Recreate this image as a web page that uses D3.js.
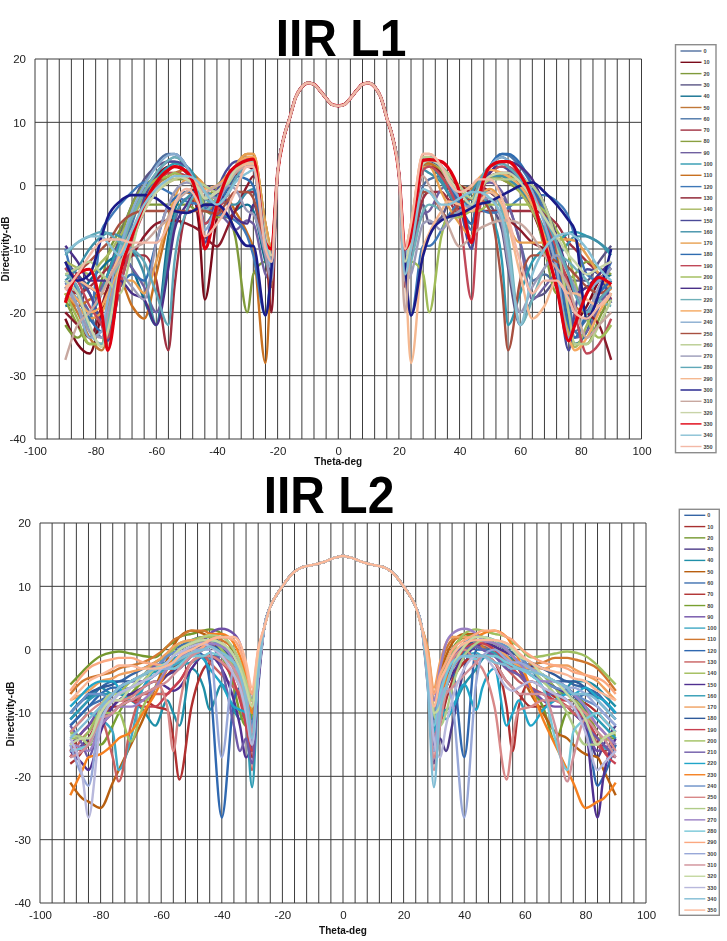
<!DOCTYPE html>
<html><head><meta charset="utf-8">
<style>html,body{margin:0;padding:0;background:#fff}svg{display:block;filter:blur(.35px)}text{font-family:"Liberation Sans",Arial,sans-serif}</style>
<script src="https://cdn.jsdelivr.net/npm/d3@7"></script>
</head><body><svg id="c" width="727" height="941"></svg>
<script>
const phis = d3.range(0,360,10);
const xTicks = [-100,-80,-60,-40,-20,0,20,40,60,80,100];
const yTicks = [-40,-30,-20,-10,0,10,20];
const coloursL1 = ["#4f6f9f","#7a0a1a","#7f9a3a","#5a5585","#0f6f8f","#c07838","#4a75a8","#a03040","#8aa040","#7060a0","#2f9ab0","#c87020","#3f78b8","#8a1a2a","#a8b860","#4a4a98","#3f90a8","#e8a050","#2f6cb0","#c04858","#a0bc58","#4a3088","#6fb0b8","#f5a860","#88acd0","#a85040","#b8cc90","#9a9ab8","#60a8b8","#f5b890","#1a1a88","#c8a8a0","#c8d4a8","#e00010","#88c0d4","#f3b8a6"];
const coloursL2 = ["#3565a5","#a83030","#74982e","#4c3a88","#1f8fa8","#b85f10","#3f70b0","#b03030","#78a030","#7050a8","#3fa8c4","#d07830","#2f68b0","#c86060","#a0bc58","#503090","#2f9cb4","#f0a060","#2f5a9a","#c84050","#a0c060","#6f5aa8","#20a5c8","#f58020","#6a90c8","#d88888","#b0cc88","#9a80c4","#78c8d8","#fba880","#98a8d8","#d09098","#c4d8a0","#b8b8dc","#80bcd4","#fcb898"];

const mainThetaL1 = [-20,-18,-16,-14,-12,-10,-8,-6,-4,-2,0,2,4,6,8,10,12,14,16,18,20];
const mainL1 = [2,7.5,10.7,14,15.6,16.2,16,15,13.8,12.8,12.6,12.8,13.8,15,16,16.2,15.6,14,10.7,7.5,2];
const sideThetaL1 = [-90,-86,-82,-78,-76,-72,-68,-64,-60,-56,-54,-50,-46,-44,-40,-36,-34,-30,-28,-24,-22];
const L1_000=[-15,-17,-20,-24,-22,-12,-5,0,3.5,5,5,3,-2,-6,-3,1,3,4.5,4,-8,-12];
const L1_010=[-21,-25,-26.5,-20,-16,-10,-5,-1,1.5,3,3,2,-6,-18,-5,0,1.5,3,2.5,-9,-13];
const L1_020=[-22,-24,-21,-15,-11,-7,-4,-3,-3,-3,-3,-3,-4,-4,-5,-5,-8,-20,-14,-12,-13];
const L1_030=[-12,-14,-16,-17,-14,-8,-3,1,3,3.8,3.8,2,-1,-3,-1,1,3,4,3.5,-7,-11];
const L1_040=[-19,-18,-15,-13,-12,-11,-13,-18,-22,-8,-4,-1,-1.5,-3,-4,-5,-4,-3,-4,-12,-15];
const L1_050=[-17,-20,-24,-26,-24,-16,-8,-3,0,1.5,2,2.5,1,0,-1,1,3,5,5,-6,-10];
const L1_060=[-13,-15,-17,-22,-24,-13,-6,-1,2,4,4.5,3,-1,-4,-2,1,3,4.5,4,-7,-11];
const L1_070=[-16,-17,-16,-14,-13,-12,-11,-11,-15,-26,-16,-4,-2,-2,-3,-5,-4,-1,-1,-10,-15];
const L1_080=[-18,-22,-25,-25,-20,-9,-3,0,1,1,1,1,-1,-2,0,2,3,4.5,4.5,-6,-10];
const L1_090=[-13,-16,-20,-16,-14,-11,-13,-16,-20,-12,-6,-2,-2,-3,-4,-6,-7,-5.5,-6,-14,-15];
const L1_100=[-16,-18,-20,-17,-14,-9,-5,-2,1,3,3.5,3,0,-3,-1,1,3,4,3.5,-8,-13];
const L1_110=[-17,-19,-18,-17,-17,-15,-19,-21,-14,-6,-3,-1,-3,-4,-3,-2.5,-4,-7.5,-10,-28,-12];
const L1_120=[-10,-17,-21,-7,-5.5,-3,-1,0.5,0,-1,-1.5,-2.5,-3,-3.5,-4.5,-5,-5.5,-8,-11,-20.5,-12];
const L1_130=[-20,-22,-24,-19,-16,-13,-11,-8,-6,-5.5,-5.5,-6,-7,-8,-9.6,-6,-4,0,1.5,-8,-20];
const L1_140=[-12,-13,-14,-12,-11,-8,-5,-2,0.5,2,2,1.5,-1,-3,-1,1.5,3,4,3.5,-8,-12];
const L1_150=[-15.6,-14.5,-17,-22,-24.5,-16,-9,-2,1.8,3.8,3.8,3,-3,-9,-1,3,3.8,4.1,4,-8,-10];
const L1_160=[-15,-13,-10,-8,-7.5,-8,-10,-14,-22,-10,-5,-2,-1,-1,-2,-3,-3,-1,-0.5,-10,-14];
const L1_170=[-17,-19,-21,-20,-18,-15,-15,-17,-12,-5,-2,1,1,0,-1,1,3,5,5,-6,-10];
const L1_180=[-16,-18,-21,-23,-20,-16,-14,-15,-9,-3,-2,-1,-1,-2,-3,0,1.5,1,0,-11,-15];
const L1_190=[-13,-15,-19,-22,-24,-16,-9,-4,0,2,2,1.5,-2,-6,-4,-1,1,3,3,-7,-12];
const L1_200=[-17,-21,-25,-25,-21,-11,-5,-1,1,1.5,2,1,-1,-3,-2,1,2.5,4,4,-7,-11];
const L1_210=[-9.5,-12,-15,-15,-15,-15,-17,-18,-22,-13,-7,-3,-0.5,0,-1,-3,-5,-6,-3,-11,-14];
const L1_220=[-14,-16,-23,-25,-22,-11,-5,-1,2,4,4.5,3,-1,-4,-2,1,3,4,3.5,-9,-12];
const L1_230=[-16,-18,-20,-19,-17,-13,-8,-4,-1,0.5,1,1.5,0.5,-0.5,0,2,3,4.5,4.5,-7,-11];
const L1_240=[-15,-19,-24,-23,-18,-10,-4,0,3,4.8,5,3,-2,-7,-3,1,3,4,3,-10,-13];
const L1_250=[-18,-14,-12,-10,-9,-6,-4.5,-4,-4,-4,-4,-4,-4,-4,-4.5,-2,-1,-1,-2,-11,-16];
const L1_260=[-14,-13,-12,-14,-15,-17,-10,-3,-1,0.5,1,1.5,0.5,0,-1,0.5,2,3.5,3.5,-9,-12];
const L1_270=[-16,-19,-23,-24,-20,-14,-16,-18,-9,-3,-1,0.5,0,-1,-2,0,-0.5,-4,-4.5,-11,-15];
const L1_280=[-11,-9,-8,-7.3,-7.5,-9,-10,-12,-17,-22,-12,-4,-1,-2,-3,-1,1,3,3,-8,-12];
const L1_290=[-16,-15,-16,-17,-15,-11,-7,-3,-0.5,1,1.5,1.5,0,-2,-1,1,2,3.5,3.5,-9,-11];
const L1_300=[-12,-15,-14,-8,-5,-2.5,-1.5,-1.5,-2,-3.5,-4,-4.3,-3.5,-3,-3,-5,-7,-9.5,-9.5,-20.5,-13];
const L1_310=[-27.5,-22,-20,-17,-15,-12,-10,-9,-7,-5,-3,-1,0,-1,0,1,2,3,3,-9,-12];
const L1_320=[-15,-17,-22,-25.5,-23,-13,-8,-4,-1,1,1.5,1,-0.5,-2,-1,1,2.5,4,4,-8,-11];
const L1_330=[-18.5,-14,-13.2,-20,-26,-14,-8,-3,0.5,2.5,3,2.2,-3,-10,-3,2,3,4,4.2,-9,-10];
const L1_340=[-10.5,-9,-8,-8,-9,-11,-7,-3,-0.5,1,1.5,1.5,0.5,-1,-3,-1,0.5,2,2.5,-9,-12];
const L1_350=[-16.5,-14,-11,-8.7,-8.5,-8.5,-9,-9,-9,-6,-3,-0.5,-3,-8,-6,-3,-1,3,3,-10,-12];
const rowsL1=[L1_000,L1_010,L1_020,L1_030,L1_040,L1_050,L1_060,L1_070,L1_080,L1_090,L1_100,L1_110,L1_120,L1_130,L1_140,L1_150,L1_160,L1_170,L1_180,L1_190,L1_200,L1_210,L1_220,L1_230,L1_240,L1_250,L1_260,L1_270,L1_280,L1_290,L1_300,L1_310,L1_320,L1_330,L1_340,L1_350];

const mainThetaL2 = [-26,-24,-22,-20,-18,-16,-14,-12,-10,-8,-6,-4,-2,0,2,4,6,8,10,12,14,16,18,20,22,24,26];
const mainL2 = [3.5,6.8,8.6,10,11.3,12.3,12.9,13.2,13.4,13.6,13.9,14.3,14.6,14.8,14.6,14.3,13.9,13.6,13.4,13.2,12.9,12.3,11.3,10,8.6,6.8,3.5];
const sideThetaL2 = [-90,-86,-84,-80,-76,-74,-70,-66,-62,-58,-56,-54,-50,-46,-44,-40,-36,-34,-32,-30,-28];
const L2_000=[-11,-9,-8,-6,-5,-5,-4,-3,-2,-1,-0.5,0,1,1.5,1.5,0,-3,-5,-8,-11,-3];
const L2_010=[-18,-16,-14,-11,-9,-8,-8,-7,-6,-4,-3,-2,0,1,1,0,-3,-6,-10,-14,-4];
const L2_020=[-5.5,-3.5,-2.5,-1,-0.4,-0.3,-0.6,-1,-1.2,0.5,1.2,2,2.5,3,3.2,2.5,-1,-4,-7,-9,-3];
const L2_030=[-17,-15,-14,-12,-9,-8,-7,-7,-6,-4,-3.5,-3,-1,0,0.5,0,-2,-4,-6,-12,-4];
const L2_040=[-10,-8,-7.5,-6,-7,-7,-8,-9.5,-12,-8,-10,-12,-3,-6,-9.5,-5.5,-9.5,-11,-9,-13,-4];
const L2_050=[-21,-23.5,-24,-25,-21,-19,-15,-11,-6,-1.5,0.5,2,3,2.5,2,0.5,-3,-5,-7,-8,-2];
const L2_060=[-12,-10,-9,-8,-7,-6.5,-6,-5,-3,-1,0,0.5,1.5,2,2,1,-1,-3,-6,-10,-3];
const L2_070=[-16,-13,-12,-10,-9,-9,-8,-8,-9,-9.5,-14,-20.5,-9,-3,-2,0,-1.5,-3,-9,-17,-5];
const L2_080=[-13,-14,-15,-15,-12,-10,-7,-5,-3,-2,-1,0,1,1.5,1,-1,-6,-10,-12,-10,-3];
const L2_090=[-15,-13,-12,-9,-7,-6,-5,-5,-4,-2,-1,0,1,1.5,2.5,3.3,2.5,1,-3,-8,-2];
const L2_100=[-13,-11,-10,-11,-13,-19,-14,-6,-4,-3,-2.5,-2,-1,-1,-1.5,-1,-2,-4,-7,-12,-3];
const L2_110=[-7,-5,-4.5,-4,-3.5,-3,-2.5,-2,-1,0.5,1.5,2,3,3,2.5,1.5,0,-2,-4,-7,-1];
const L2_120=[-12,-10,-9,-7,-6,-6,-5,-4,-3,-2,-2,-1.5,0,-1,-5,-26.5,-8,-6,-8,-16,-5];
const L2_130=[-17,-14,-13,-11,-17,-20.8,-12,-7,-7,-7,-6,-5,-2,-1,-2,-4,-6,-7,-12,-19,-5];
const L2_140=[-13,-14,-15,-11,-8,-7,-5,-4,-2,-1,0,1,1.5,2,2,0.5,-3,-6,-9,-10,-2];
const L2_150=[-16,-18,-19,-13,-9,-8,-7,-6,-5,-6,-6.5,-6,-3,-1,-1,-3,-8,-12,-17,-14,-4];
const L2_160=[-11,-9,-8,-7,-7,-6,-5,-4,-3.5,-3,-3,-2.5,-2,-1,-1,-1,-3,-6,-10,-21.7,-6];
const L2_170=[-8,-7,-6.5,-5,-4.5,-4,-3.5,-3,-2,-0.5,0.5,1,1.5,1.5,1.5,1,-1,-3,-5,-9,-2];
const L2_180=[-10,-8,-7,-6,-5.5,-5,-5,-4,-3,-2,-1.5,-1,0,0.5,0.5,0,-2,-4,-7,-13,-4];
const L2_190=[-15,-16,-15,-12,-10,-9,-8,-9,-9,-7,-6,-5,-2,-1,-1,-2,-5,-8,-12,-16,-5];
const L2_200=[-14,-14,-13,-10,-10,-10,-14.5,-9,-6,-3,-2,-1,0.5,1.5,1.5,0,-3,-6,-8,-9,-3];
const L2_210=[-12,-15,-17,-11,-7,-6,-5,-4,-2.5,-2,-2,-1,0.5,1,1,-3,-12,-16,-14,-18,-6];
const L2_220=[-9,-7,-6,-5,-5,-6,-8,-6,-3,-2,-1.5,-1,-0.5,-1.5,-3,-5.5,-9,-9.5,-10,-12,-3];
const L2_230=[-23,-19,-17,-16.5,-15,-14,-13,-10,-7,-3,-1,0,1,2,2.5,2.5,1,-1,-4,-10,-2];
const L2_240=[-10,-8,-7,-7,-8,-8,-6,-4,-3,-1,-0.5,0,1,1.5,1.5,0.5,-1,-3,-7,-12,-3];
const L2_250=[-13,-11,-10,-8.5,-8,-8,-7.5,-6,-5,-9,-16,-9,-2,-1,-1,-2,-4,-6,-9,-14,-4];
const L2_260=[-13.5,-14,-15,-9,-7,-7,-6,-5,-3,-2,-1,0,1,2,2.3,2,0,-2,-5,-8,-1];
const L2_270=[-15,-15.5,-16,-12,-10,-9,-9,-8,-6,-3,-2,-1,-0.5,0.5,1,0.5,-2,-5,-8,-13,-4];
const L2_280=[-16,-15.5,-15,-11,-8,-7,-6,-4,-3,-3,-3,-2.5,-1,-1,-0.5,-1,-2,-4,-9,-15,-4];
const L2_290=[-6.5,-4,-3,-2,-1.5,-1.3,-1.3,-2,-2.3,-2.5,-2,-1.5,-0.5,0.5,1.5,2,1.5,0,-3,-7,0];
const L2_300=[-15,-20,-21.5,-10,-7,-6,-5,-4,-3,-3,-2,-1,0,0,0,-17,-3,-4,-7,-13,-4];
const L2_310=[-17,-16,-15,-11,-10,-9,-8,-7,-6,-5,-4,-3,-1,0,0.5,-1,-3,-5,-8,-13,-4];
const L2_320=[-15,-14,-14,-10,-8,-8,-6,-4,-3,-2,-1,0,1,1.5,1.5,1,-1,-3,-6,-9,-2];
const L2_330=[-14,-20,-26.5,-12,-8,-7,-6,-5,-4,-2,-1,-0.5,0.5,1,0.5,-1,-4,-6,-10,-15,-4];
const L2_340=[-14,-12,-11,-9,-7,-6,-5,-4,-3,-2.5,-2,-1.5,-0.5,0,0.5,-0.5,-2,-4,-8,-14,-4];
const L2_350=[-8,-6,-5,-4,-3,-2.5,-2.5,-3,-3,-2.5,-2,-1,0,1,1.5,2,2,1,-2,-6,0];
const rowsL2=[L2_000,L2_010,L2_020,L2_030,L2_040,L2_050,L2_060,L2_070,L2_080,L2_090,L2_100,L2_110,L2_120,L2_130,L2_140,L2_150,L2_160,L2_170,L2_180,L2_190,L2_200,L2_210,L2_220,L2_230,L2_240,L2_250,L2_260,L2_270,L2_280,L2_290,L2_300,L2_310,L2_320,L2_330,L2_340,L2_350];

const svg = d3.select("#c");

function drawChart(o){
  const x = d3.scaleLinear().domain([-100,100]).range([o.left,o.right]);
  const y = d3.scaleLinear().domain([-40,20]).range([o.bottom,o.top]);
  const g = svg.append("g");
  g.append("text").attr("transform",`translate(${o.titleX},${o.titleY}) scale(1,1.09)`).attr("text-anchor","middle")
    .attr("font-size",48).attr("font-weight","bold").attr("fill","#000").text(o.title);
  g.append("g").selectAll("line").data(d3.range(-100,101,4)).join("line")
    .attr("x1",d=>x(d)).attr("x2",d=>x(d)).attr("y1",o.top).attr("y2",o.bottom)
    .attr("stroke","#3c3c3c").attr("stroke-width",1);
  g.append("g").selectAll("line").data(yTicks).join("line")
    .attr("x1",o.left).attr("x2",o.right).attr("y1",d=>y(d)).attr("y2",d=>y(d))
    .attr("stroke","#3c3c3c").attr("stroke-width",1);

  const xa = g.append("g").attr("transform",`translate(0,${o.bottom})`)
    .call(d3.axisBottom(x).tickValues(xTicks).tickSize(0).tickPadding(8).tickFormat(d=>String(d)));
  const ya = g.append("g").attr("transform",`translate(${o.left},0)`)
    .call(d3.axisLeft(y).tickValues(yTicks).tickSize(0).tickPadding(9).tickFormat(d=>String(d)));
  [xa,ya].forEach(a=>{a.select(".domain").remove();
    a.selectAll("text").attr("font-size",11.5).attr("fill","#222").style("font-family",'"Liberation Sans",Arial,sans-serif');});

  g.append("text").attr("x",(o.left+o.right)/2).attr("y",o.xlabY).attr("text-anchor","middle")
    .attr("font-size",10).attr("font-weight","bold").attr("fill","#111").text("Theta-deg");
  g.append("text").attr("transform",`translate(${o.ylabX},${o.ylabY}) rotate(-90)`).attr("text-anchor","middle")
    .attr("font-size",10).attr("font-weight","bold").attr("fill","#111").text("Directivity-dB");

  const line = d3.line().x(d=>x(d[0])).y(d=>y(d[1])).curve(d3.curveMonotoneX);
  const sideThetaR = o.sideTheta.map(d=>-d).reverse();
  o.rows.forEach((row,i)=>{
    const opposite = o.rows[(i+18)%36].slice().reverse();
    const pts = [
      ...o.sideTheta.map((t,k)=>[t,row[k]]),
      ...o.mainTheta.map((t,k)=>[t,o.main[k]]),
      ...sideThetaR.map((t,k)=>[t,opposite[k]])
    ];
    g.append("path").attr("d",line(pts)).attr("fill","none")
      .attr("stroke",o.colours[i]).attr("stroke-linejoin","round")
      .attr("stroke-width",o.thick[phis[i]]||2.4);
  });

  const leg = g.append("g");
  leg.append("rect").attr("x",o.legX).attr("y",o.legTop).attr("width",o.legW).attr("height",o.legH)
    .attr("fill","#fff").attr("stroke","#8c8c8c").attr("stroke-width",1.4);
  const ly = d3.scalePoint().domain(phis).range([o.legFirst,o.legFirst+35*o.legStep]);
  phis.forEach((p,i)=>{
    leg.append("line").attr("x1",o.legX+5).attr("x2",o.legX+26).attr("y1",ly(p)).attr("y2",ly(p))
      .attr("stroke",o.colours[i]).attr("stroke-width",1.4);
    leg.append("text").attr("x",o.legX+28).attr("y",ly(p)+2).attr("font-size",5.5).attr("font-weight","bold").attr("fill","#444").text(p);
  });
}

drawChart({title:"IIR L1",titleX:341,titleY:56,left:35,right:641.5,top:59,bottom:439,ylabX:9,ylabY:249,xlabY:465,
  sideTheta:sideThetaL1,mainTheta:mainThetaL1,main:mainL1,rows:rowsL1,colours:coloursL1,thick:{300:2.6,330:3.2},
  legX:675.5,legTop:44.7,legW:40.5,legH:408,legFirst:51,legStep:11.3});
drawChart({title:"IIR L2",titleX:329,titleY:513,left:40,right:646,top:523,bottom:903,ylabX:14,ylabY:714,xlabY:934,
  sideTheta:sideThetaL2,mainTheta:mainThetaL2,main:mainL2,rows:rowsL2,colours:coloursL2,thick:{},
  legX:679.3,legTop:509.3,legW:40,legH:406,legFirst:515.3,legStep:11.28});
</script></body></html>
